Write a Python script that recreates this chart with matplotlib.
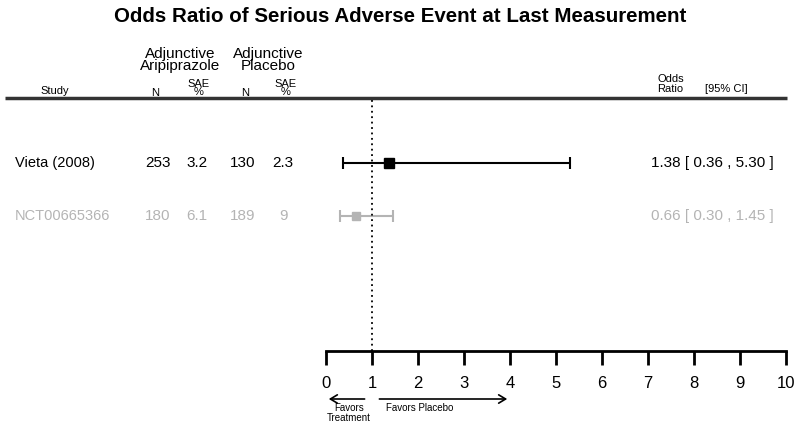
import numpy as np
import matplotlib.pyplot as plt

studies = ["Vieta (2008)", "NCT00665366"]
n_arip = [253, 180]
sae_arip = ["3.2", "6.1"]
n_plac = [130, 189]
sae_plac = ["2.3", "9"]
odds = [1.38, 0.66]
ci_low = [0.36, 0.30]
ci_high = [5.30, 1.45]
colors = ["black", "#b4b4b4"]
ticks = np.arange(0, 11)

plt.rcParams["font.family"] = ["Liberation Sans", "DejaVu Sans"]

W, H = 800, 426
fig = plt.figure(figsize=(W / 100, H / 100), dpi=100)

# background axes in pixel coordinates for the table part
bg = fig.add_axes([0, 0, 1, 1])
bg.set_xlim(0, W)
bg.set_ylim(H, 0)
bg.axis("off")

# forest plot axes: x is odds ratio, y runs in pixel units
x0, x1, ytop, ybot = 326, 786, 98, 351
ax = fig.add_axes([x0 / W, (H - ybot) / H, (x1 - x0) / W, (ybot - ytop) / H])
ax.set_xlim(0, 10)
ax.set_ylim(ybot, ytop)
ax.patch.set_alpha(0)
for s in ["top", "left", "right"]:
    ax.spines[s].set_visible(False)
ax.spines["bottom"].set_linewidth(2)
ax.set_yticks([])
ax.set_xticks(ticks)
ax.tick_params(axis="x", direction="out", length=10, width=2, pad=8,
               labelsize=12)

fig.text(0.5, 1 - 17 / H, "Odds Ratio of Serious Adverse Event at Last Measurement",
         ha="center", va="center", fontsize=14.8, fontweight="bold")

# header
bg.plot([5, 787], [98, 98], color="#333333", lw=2.5, solid_capstyle="butt")
bg.text(55, 91, "Study", ha="center", va="center", fontsize=8)
bg.text(180, 60, "Adjunctive\nAripiprazole", ha="center", va="center",
        fontsize=11, linespacing=0.85)
bg.text(268, 60, "Adjunctive\nPlacebo", ha="center", va="center",
        fontsize=11, linespacing=0.85)
for xn, xs in [(155, 199), (245, 286)]:
    bg.text(xn, 93, "N", ha="center", va="center", fontsize=8)
    bg.text(xs, 88, "SAE\n%", ha="center", va="center", fontsize=8,
            linespacing=0.85)
bg.text(657, 84, "Odds\nRatio", ha="left", va="center", fontsize=8,
        linespacing=0.95)
bg.text(705, 89, "[95% CI]", ha="left", va="center", fontsize=8)

# rows
rows_y = [163, 216]
for i, y in enumerate(rows_y):
    c = colors[i]
    bg.text(15, y, studies[i], ha="left", va="center", fontsize=10.5, color=c)
    bg.text(158, y, str(n_arip[i]), ha="center", va="center", fontsize=11, color=c)
    bg.text(197, y, sae_arip[i], ha="center", va="center", fontsize=11, color=c)
    bg.text(243, y, str(n_plac[i]), ha="center", va="center", fontsize=11, color=c)
    bg.text(283, y, sae_plac[i], ha="center", va="center", fontsize=11, color=c)
    bg.text(651, y, "%.2f [ %.2f , %.2f ]" % (odds[i], ci_low[i], ci_high[i]),
            ha="left", va="center", fontsize=11, color=c)
    ax.errorbar(odds[i], y, xerr=[[odds[i] - ci_low[i]], [ci_high[i] - odds[i]]],
                fmt="s", color=c, ms=7 if i == 0 else 6, capsize=4,
                elinewidth=1.5, capthick=1.5, clip_on=False)

ax.axvline(1, color="black", ls=(0, (1, 2)), lw=1.3)

# favors arrows
ax.annotate("", xy=(0, 399), xytext=(0.9, 399),
            arrowprops=dict(arrowstyle="->,head_length=0.5,head_width=0.3",
                            lw=1.2, color="black"),
            annotation_clip=False)
ax.annotate("", xy=(4.0, 399), xytext=(1.1, 399),
            arrowprops=dict(arrowstyle="->,head_length=0.5,head_width=0.3",
                            lw=1.2, color="black"),
            annotation_clip=False)
ax.text(0.5, 413, "Favors\nTreatment", ha="center", va="center", fontsize=7,
        linespacing=0.9, clip_on=False)
ax.text(1.3, 408, "Favors Placebo", ha="left", va="center", fontsize=7,
        clip_on=False)

fig.savefig("out.png", dpi=100)
